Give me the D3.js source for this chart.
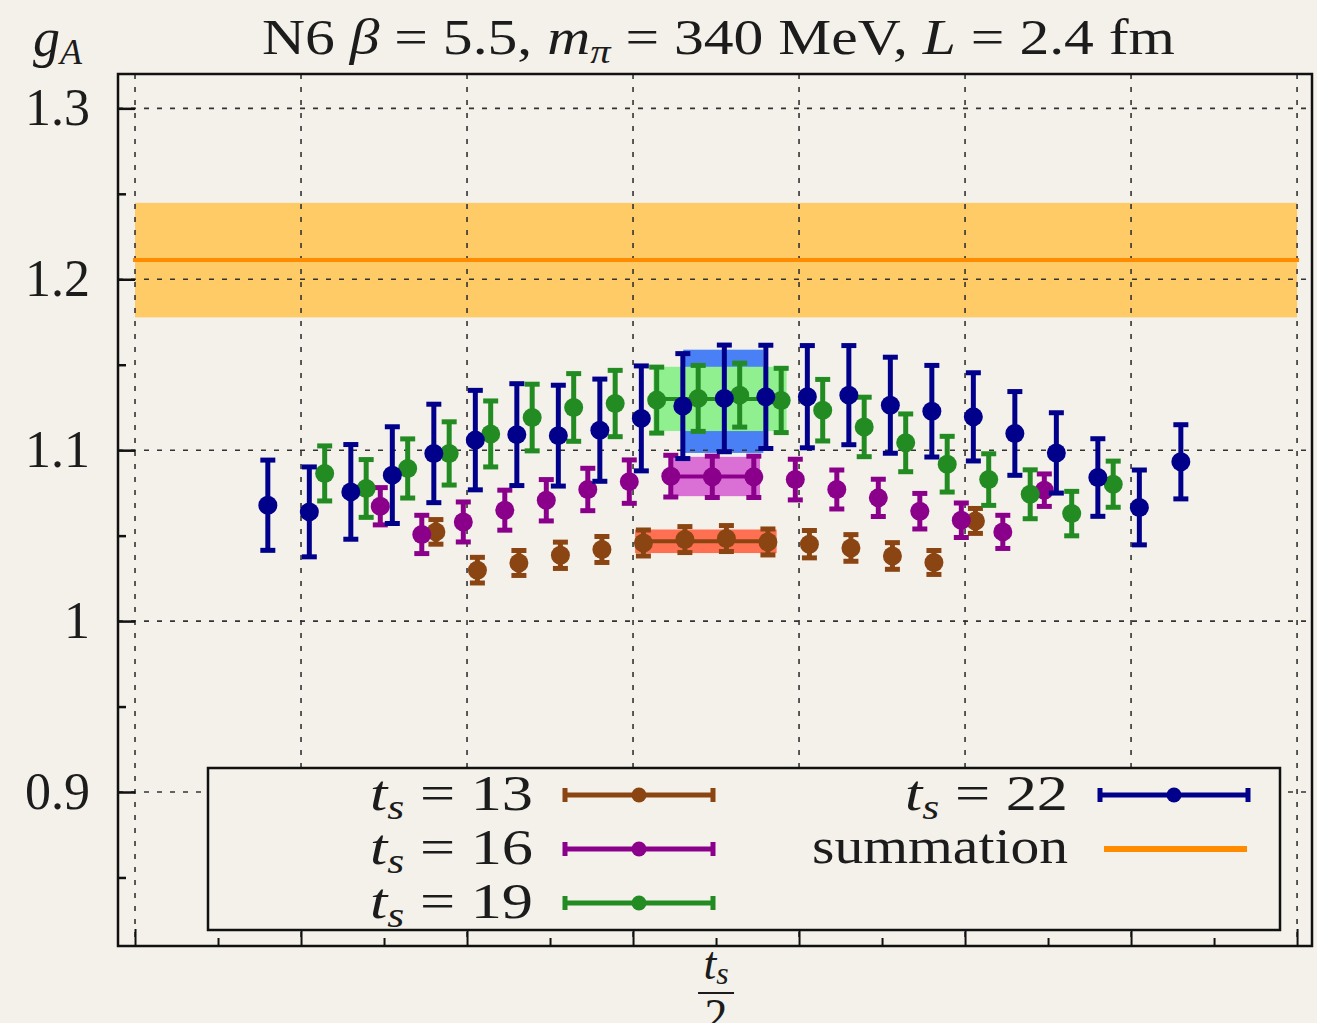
<!DOCTYPE html>
<html>
<head>
<meta charset="utf-8">
<script src="https://cdn.jsdelivr.net/npm/d3@7"></script>
<style>
  body { margin: 0; background: #f4f1ea; }
  svg text { font-family: "Liberation Serif", "DejaVu Serif", serif; fill: #1c1c1c; }
</style>
</head>
<body>
<figure id="gA" style="margin:0"></figure>
<script>
// tick positions (x is t - t_s/2)
var xTicksMajor = [-14, -10, -6, -2, 2, 6, 10, 14];
var xTicksMinor = [-12, -8, -4, 0, 4, 8, 12];
var yTicks = [0.9, 1.0, 1.1, 1.2, 1.3];
var yTickLabels = ["0.9", "1", "1.1", "1.2", "1.3"];
var yTicksMinor = [0.85, 0.95, 1.05, 1.15, 1.25];

// source-sink separations and their per-series horizontal shift
var tsList = [13, 16, 19, 22];
var xShift = [-0.25, -0.09, 0.07, 0.2];
var seriesColors = ["#8b4513", "#8b008b", "#228b22", "#00008b"];
var bandColors = ["#ff7052", "#da70d6", "#90f090", "#4a80f5"];

// g_A ratio values, one per insertion time t = 0..t_s
var gA13 = [1.0522, 1.0298, 1.0340, 1.0385, 1.0419, 1.0457, 1.0477, 1.0483, 1.0463, 1.0450, 1.0428, 1.0381, 1.0343, 1.0586];
var err13 = [0.0072, 0.0075, 0.0073, 0.0077, 0.0076, 0.0076, 0.0076, 0.0076, 0.0076, 0.0080, 0.0078, 0.0078, 0.0070, 0.0073];

var gA16 = [1.0672, 1.0507, 1.0580, 1.0649, 1.0707, 1.0770, 1.0816, 1.0848, 1.0844, 1.0844, 1.0828, 1.0770, 1.0721, 1.0643, 1.0590, 1.0522, 1.0766];
var err16 = [0.0109, 0.0112, 0.0117, 0.0117, 0.0121, 0.0124, 0.0127, 0.0122, 0.0121, 0.0121, 0.0119, 0.0114, 0.0109, 0.0104, 0.0101, 0.0097, 0.0095];

var gA19 = [1.0864, 1.0776, 1.0893, 1.0981, 1.1095, 1.1191, 1.1250, 1.1273, 1.1293, 1.1303, 1.1322, 1.1291, 1.1234, 1.1136, 1.1043, 1.0918, 1.0828, 1.0742, 1.0629, 1.0801];
var err19 = [0.0161, 0.0169, 0.0173, 0.0185, 0.0193, 0.0195, 0.0198, 0.0194, 0.0193, 0.0193, 0.0187, 0.0188, 0.0180, 0.0174, 0.0169, 0.0163, 0.0151, 0.0143, 0.0130, 0.0135];

var gA22 = [1.0678, 1.0639, 1.0756, 1.0854, 1.0981, 1.1059, 1.1091, 1.1085, 1.1117, 1.1186, 1.1258, 1.1303, 1.1312, 1.1313, 1.1322, 1.1263, 1.1228, 1.1195, 1.1098, 1.0984, 1.0840, 1.0665, 1.0932];
var err22 = [0.0264, 0.0263, 0.0277, 0.0283, 0.0288, 0.0291, 0.0298, 0.0295, 0.0299, 0.0307, 0.0307, 0.0312, 0.0302, 0.0299, 0.0290, 0.0281, 0.0268, 0.0258, 0.0245, 0.0235, 0.0227, 0.0219, 0.0217];

// plateau fits per t_s (mean, error, x extent)
var fitMean = [1.0467, 1.0846, 1.1300, 1.1286];
var fitErr = [0.0069, 0.0115, 0.0188, 0.0302];
var fitFrom = [-1.95, -1.11, -1.51, -0.79];
var fitTo = [1.46, 1.06, 1.70, 1.14];

// summation method result
var sumMean = 1.2112;
var sumErr = 0.0335;
var sumFrom = -14, sumTo = 14;

var allValues = [gA13, gA16, gA19, gA22];
var allErrors = [err13, err16, err19, err22];

// set the dimensions and margins of the graph
var margin = {top: 74, right: 5, bottom: 77, left: 118},
  width = 1317 - margin.left - margin.right,
  height = 1023 - margin.top - margin.bottom;

var svg = d3.select("figure#gA")
.append("svg")
  .attr("width", width + margin.left + margin.right)
  .attr("height", height + margin.top + margin.bottom)
.append("g")
  .attr("transform", "translate(" + margin.left + "," + margin.top + ")");

var x = d3.scaleLinear()
  .domain([-14.41, 14.36])
  .range([0, width]);

var y = d3.scaleLinear()
  .domain([0.8099, 1.3201])
  .range([height, 0]);

// summation band
svg.append("rect")
  .attr("x", x(sumFrom))
  .attr("width", x(sumTo) - x(sumFrom))
  .attr("y", y(sumMean + sumErr))
  .attr("height", y(sumMean - sumErr) - y(sumMean + sumErr))
  .style("fill", "#fecb66");

// plateau bands, largest t_s first so the green sits on the blue
[3, 2, 1, 0].forEach(function(i) {
  svg.append("rect")
    .attr("x", x(fitFrom[i]))
    .attr("width", x(fitTo[i]) - x(fitFrom[i]))
    .attr("y", y(fitMean[i] + fitErr[i]))
    .attr("height", y(fitMean[i] - fitErr[i]) - y(fitMean[i] + fitErr[i]))
    .style("fill", bandColors[i]);
  svg.append("line")
    .attr("x1", x(fitFrom[i])).attr("x2", x(fitTo[i]))
    .attr("y1", y(fitMean[i])).attr("y2", y(fitMean[i]))
    .style("stroke", seriesColors[i])
    .style("stroke-width", 4);
});

// dashed grid
svg.append("g")
  .selectAll("line")
  .data(xTicksMajor)
  .enter().append("line")
    .attr("x1", function(d) { return x(d); })
    .attr("x2", function(d) { return x(d); })
    .attr("y1", 0).attr("y2", height)
    .style("stroke", "#333")
    .style("stroke-width", 1.6)
    .style("stroke-dasharray", "5,8");
svg.append("g")
  .selectAll("line")
  .data(yTicks)
  .enter().append("line")
    .attr("x1", 0).attr("x2", width)
    .attr("y1", function(d) { return y(d); })
    .attr("y2", function(d) { return y(d); })
    .style("stroke", "#333")
    .style("stroke-width", 1.6)
    .style("stroke-dasharray", "5,8");

// summation central line
svg.append("line")
  .attr("x1", x(sumFrom) - 2).attr("x2", x(sumTo) + 2)
  .attr("y1", y(sumMean)).attr("y2", y(sumMean))
  .style("stroke", "#ff8c00")
  .style("stroke-width", 4);

// error bar points
tsList.forEach(function(ts, i) {
  var pts = allValues[i].map(function(v, t) {
    return {u: t - ts / 2 + xShift[i], v: v, e: allErrors[i][t]};
  });
  var g = svg.append("g")
    .style("stroke", seriesColors[i])
    .style("fill", seriesColors[i]);
  g.selectAll(".bar")
    .data(pts)
    .enter().append("line")
      .attr("x1", function(d) { return x(d.u); })
      .attr("x2", function(d) { return x(d.u); })
      .attr("y1", function(d) { return y(d.v - d.e); })
      .attr("y2", function(d) { return y(d.v + d.e); })
      .style("stroke-width", 5);
  [-1, 1].forEach(function(s) {
    g.selectAll(".cap" + s)
      .data(pts)
      .enter().append("line")
        .attr("x1", function(d) { return x(d.u) - 7.5; })
        .attr("x2", function(d) { return x(d.u) + 7.5; })
        .attr("y1", function(d) { return y(d.v + s * d.e); })
        .attr("y2", function(d) { return y(d.v + s * d.e); })
        .style("stroke-width", 5);
  });
  g.selectAll("circle")
    .data(pts)
    .enter().append("circle")
      .attr("cx", function(d) { return x(d.u); })
      .attr("cy", function(d) { return y(d.v); })
      .attr("r", 9.5)
      .style("stroke", "none");
});

// axes: ticks point inward, labels only on y
svg.append("g")
  .call(d3.axisLeft(y).tickValues(yTicks).tickSize(-17).tickPadding(28)
    .tickFormat(function(d, i) { return yTickLabels[i]; }))
  .call(g => g.select(".domain").remove())
  .call(g => g.selectAll("line").style("stroke", "#111").style("stroke-width", 2.5))
  .call(g => g.selectAll("text").style("font-size", "52px")
    .style("font-family", "Liberation Serif, serif").attr("fill", "#1c1c1c"));
svg.append("g")
  .call(d3.axisLeft(y).tickValues(yTicksMinor).tickSize(-8).tickFormat(""))
  .call(g => g.select(".domain").remove())
  .call(g => g.selectAll("line").style("stroke", "#111").style("stroke-width", 2.5));
svg.append("g")
  .attr("transform", "translate(0," + height + ")")
  .call(d3.axisBottom(x).tickValues(xTicksMajor).tickSize(-17).tickFormat(""))
  .call(g => g.select(".domain").remove())
  .call(g => g.selectAll("line").style("stroke", "#111").style("stroke-width", 2));
svg.append("g")
  .attr("transform", "translate(0," + height + ")")
  .call(d3.axisBottom(x).tickValues(xTicksMinor).tickSize(-8).tickFormat(""))
  .call(g => g.select(".domain").remove())
  .call(g => g.selectAll("line").style("stroke", "#111").style("stroke-width", 2));

// frame
svg.append("rect")
  .attr("width", width).attr("height", height)
  .style("fill", "none")
  .style("stroke", "#111")
  .style("stroke-width", 2.5);

// legend
var lg = svg.append("g").attr("transform", "translate(" + (208 - margin.left) + "," + (768 - margin.top) + ")");
lg.append("rect")
  .attr("width", 1072).attr("height", 162)
  .style("fill", "#f4f1ea")
  .style("stroke", "#111")
  .style("stroke-width", 2.5);

var legendPos = [[325, 27], [325, 81], [325, 135], [860, 27]];
tsList.forEach(function(ts, i) {
  var px = legendPos[i][0], py = legendPos[i][1];
  var t = lg.append("text")
    .attr("x", px - 163).attr("y", py + 15)
    .attr("textLength", 163)
    .attr("lengthAdjust", "spacingAndGlyphs")
    .style("font-size", "50px");
  t.append("tspan").style("font-style", "italic").text("t");
  t.append("tspan").style("font-style", "italic").style("font-size", "35px").attr("dy", 9).text("s");
  t.append("tspan").attr("dy", -9).text(" = " + ts);
  var sx = px + 32, ex = px + 180, c = seriesColors[i];
  lg.append("line").attr("x1", sx).attr("x2", ex).attr("y1", py).attr("y2", py)
    .style("stroke", c).style("stroke-width", 5);
  [sx, ex].forEach(function(cx) {
    lg.append("line").attr("x1", cx).attr("x2", cx).attr("y1", py - 7).attr("y2", py + 7)
      .style("stroke", c).style("stroke-width", 5);
  });
  lg.append("circle").attr("cx", (sx + ex) / 2).attr("cy", py).attr("r", 7.5).style("fill", c);
});
lg.append("text")
  .attr("x", 860 - 256).attr("y", 81 + 14)
  .attr("textLength", 256)
  .attr("lengthAdjust", "spacingAndGlyphs")
  .style("font-size", "50px")
  .text("summation");
lg.append("line").attr("x1", 896).attr("x2", 1039).attr("y1", 81).attr("y2", 81)
  .style("stroke", "#ff8c00").style("stroke-width", 6);

// title
var title = svg.append("text")
  .attr("x", 262 - margin.left).attr("y", 54 - margin.top)
  .attr("textLength", 913)
  .attr("lengthAdjust", "spacingAndGlyphs")
  .style("font-size", "50px");
title.append("tspan").text("N6 ");
title.append("tspan").style("font-style", "italic").text("β");
title.append("tspan").text(" = 5.5, ");
title.append("tspan").style("font-style", "italic").text("m");
title.append("tspan").style("font-style", "italic").style("font-size", "34px").attr("dy", 9).text("π");
title.append("tspan").attr("dy", -9).text(" = 340 MeV, ");
title.append("tspan").style("font-style", "italic").text("L");
title.append("tspan").text(" = 2.4 fm");

// y label g_A
var yl = svg.append("text")
  .attr("x", 33 - margin.left).attr("y", 56 - margin.top)
  .style("font-size", "54px");
yl.append("tspan").style("font-style", "italic").text("g");
yl.append("tspan").style("font-style", "italic").style("font-size", "36px").attr("dy", 8).text("A");

// x label t_s / 2 (the denominator runs off the bottom edge, as in the original)
var xl = svg.append("g").attr("transform", "translate(" + x(0) + "," + (height + 33) + ")");
var xt = xl.append("text").attr("text-anchor", "middle").style("font-size", "46px");
xt.append("tspan").style("font-style", "italic").text("t");
xt.append("tspan").style("font-style", "italic").style("font-size", "32px").attr("dy", 5).text("s");
xl.append("line").attr("x1", -18).attr("x2", 18).attr("y1", 14).attr("y2", 14)
  .style("stroke", "#1c1c1c").style("stroke-width", 2);
xl.append("text").attr("text-anchor", "middle").attr("y", 52).style("font-size", "46px").text("2");
</script>
</body>
</html>
